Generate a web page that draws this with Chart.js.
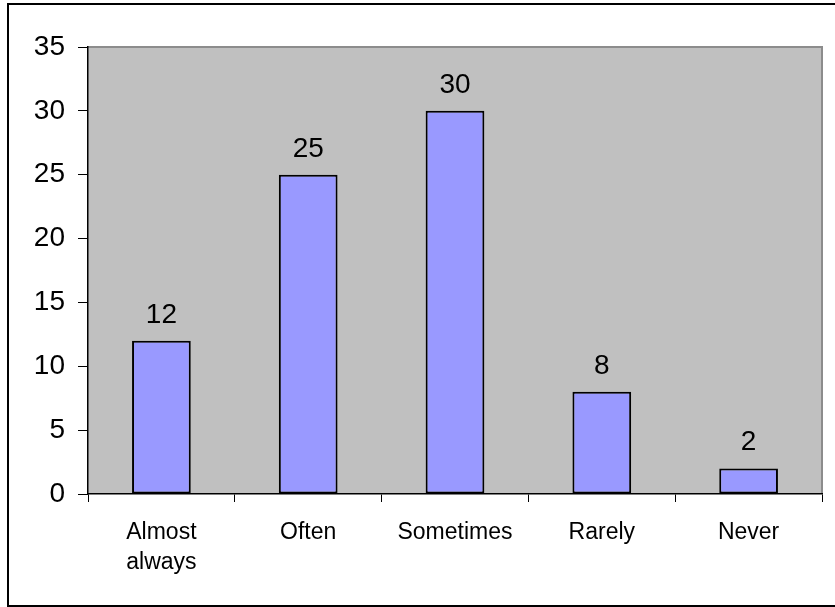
<!DOCTYPE html>
<html>
<head>
<meta charset="utf-8">
<script src="https://cdn.jsdelivr.net/npm/chart.js@4/dist/chart.umd.min.js"></script>
<style>
  html, body { margin: 0; padding: 0; background: #fff; }
  #wrap { width: 835px; height: 607px; position: relative; }
</style>
</head>
<body>
<div id="wrap"><canvas id="grafico" width="835" height="607"></canvas></div>
<script>
// categorias e valores do grafico
const categorias = [["Almost", "always"], "Often", "Sometimes", "Rarely", "Never"]
const valores = [12, 25, 30, 8, 2]
const yMin = 0
const yMax = 35
const yPasso = 5

// fundo cinza da area do grafico + moldura externa
const fundoPlugin = {
    id: 'fundo',
    beforeDraw(chart) {
        const ctx = chart.ctx
        const a = chart.chartArea
        ctx.save()
        ctx.fillStyle = '#fff'
        ctx.fillRect(0, 0, chart.width, chart.height)
        ctx.strokeStyle = '#000'
        ctx.lineWidth = 2
        ctx.strokeRect(8, 4, chart.width + 10, chart.height - 5)
        ctx.fillStyle = '#c0c0c0'
        ctx.fillRect(a.left, a.top, a.right - a.left, a.bottom - a.top)
        ctx.strokeStyle = '#8c8c8c'
        ctx.lineWidth = 2
        ctx.beginPath()
        ctx.moveTo(a.left, a.top)
        ctx.lineTo(a.right, a.top)
        ctx.lineTo(a.right, a.bottom)
        ctx.stroke()
        ctx.restore()
    }
}

// numeros em cima das barras
const rotulosPlugin = {
    id: 'rotulos',
    afterDatasetsDraw(chart) {
        const ctx = chart.ctx
        const meta = chart.getDatasetMeta(0)
        ctx.save()
        ctx.fillStyle = '#000'
        ctx.font = '28px "Liberation Sans", Arial, sans-serif'
        ctx.textAlign = 'center'
        ctx.textBaseline = 'alphabetic'
        meta.data.forEach((barra, i) => {
            ctx.fillText(String(valores[i]), barra.x, barra.y - 18)
        })
        ctx.restore()
    }
}

let chart = new Chart(document.getElementById('grafico'), {
    type: 'bar',
    data: {
        labels: categorias,
        datasets: [{
            data: valores,
            backgroundColor: '#9999ff',
            borderColor: '#000',
            borderWidth: 2,
            borderSkipped: false,
            barPercentage: 0.4,
            categoryPercentage: 1
        }]
    },
    options: {
        responsive: false,
        animation: false,
        layout: { padding: { top: 47, right: 13, left: 0, bottom: 0 } },
        plugins: { legend: { display: false }, tooltip: { enabled: false } },
        scales: {
            x: {
                grid: { drawOnChartArea: false, drawTicks: true, tickLength: 8, color: '#000', offset: true },
                border: { color: '#000', width: 1.5 },
                ticks: {
                    color: '#000',
                    padding: 16,
                    maxRotation: 0,
                    font: { family: '"Liberation Sans", Arial, sans-serif', size: 23, lineHeight: 1.3 }
                },
                afterFit: s => { s.height = 113 }
            },
            y: {
                min: yMin,
                max: yMax,
                grid: { drawOnChartArea: false, drawTicks: true, tickLength: 10, color: '#000' },
                border: { color: '#000', width: 1.5 },
                ticks: {
                    stepSize: yPasso,
                    color: '#000',
                    padding: 13,
                    font: { family: '"Liberation Sans", Arial, sans-serif', size: 28 }
                },
                afterFit: s => { s.width = 88 }
            }
        }
    },
    plugins: [fundoPlugin, rotulosPlugin]
})
</script>
</body>
</html>
